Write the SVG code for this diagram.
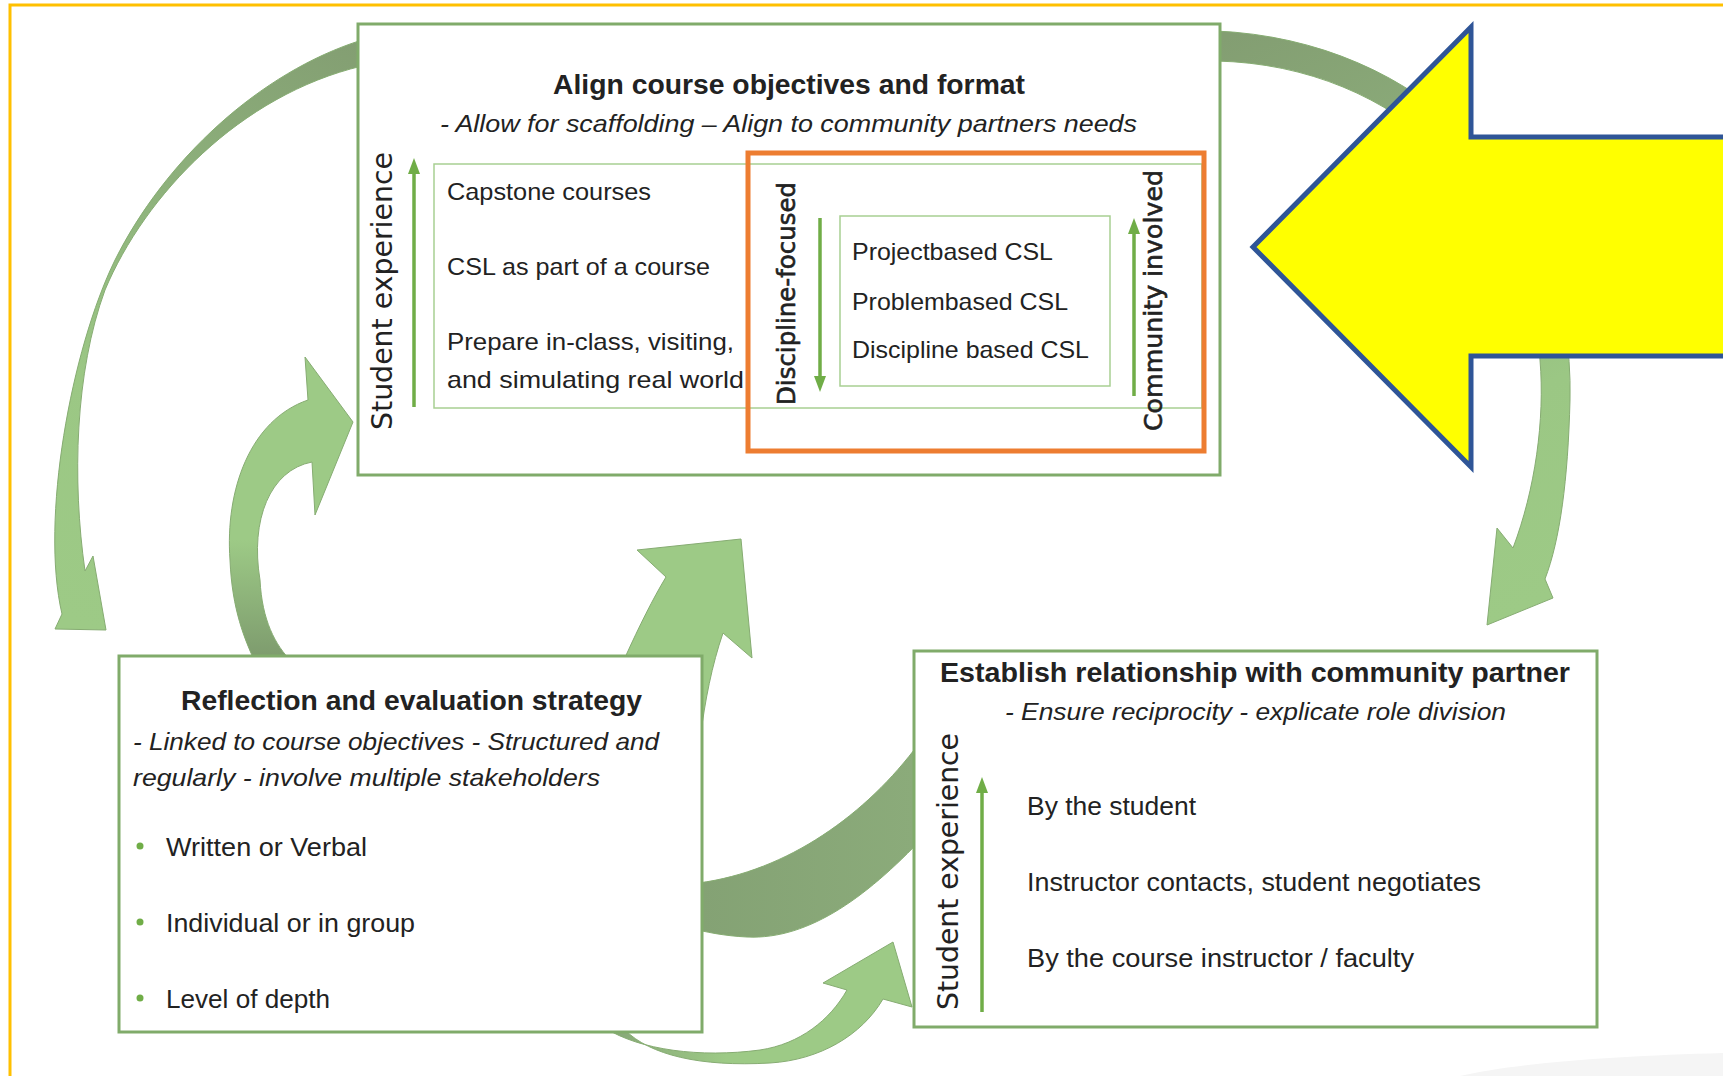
<svg xmlns="http://www.w3.org/2000/svg" width="1723" height="1076" viewBox="0 0 1723 1076">
<style>
.box{fill:#fff;stroke:#80AB6A;stroke-width:3}
.inner{fill:none;stroke:#A8CF92;stroke-width:1.5}
.t{font-family:"Liberation Sans",Arial,sans-serif;fill:#222}
.b{font-weight:bold;font-size:28px}
.i{font-style:italic;font-size:24px}
.n24{font-size:24px}
.n26{font-size:26px}
.v{font-family:"DejaVu Sans",Verdana,sans-serif;fill:#222;text-anchor:middle}
.vm{stroke:#222;stroke-width:0.6}
.sa{stroke:#70AD47;stroke-width:3.5;fill:none;marker-end:url(#ah)}
.conn{stroke:#86AC72;stroke-width:1}
.dot{fill:#70AD47}
</style>
<defs>
<marker id="ah" viewBox="0 0 16 12" refX="0" refY="6" markerWidth="16" markerHeight="12" orient="auto" markerUnits="userSpaceOnUse"><path d="M0,0 L16,6 L0,12 Z" fill="#70AD47"/></marker>
<linearGradient id="g1" gradientUnits="userSpaceOnUse" x1="360" y1="40" x2="70" y2="620"><stop offset="0" stop-color="#839E72"/><stop offset="0.35" stop-color="#8EB27C"/><stop offset="0.65" stop-color="#9BC784"/><stop offset="1" stop-color="#9DCA86"/></linearGradient>
<linearGradient id="g2" gradientUnits="userSpaceOnUse" x1="1220" y1="40" x2="1500" y2="620"><stop offset="0" stop-color="#839E72"/><stop offset="0.4" stop-color="#8FB27D"/><stop offset="0.7" stop-color="#9BC784"/><stop offset="1" stop-color="#9DCA86"/></linearGradient>
<linearGradient id="g3" gradientUnits="userSpaceOnUse" x1="0" y1="540" x2="0" y2="656"><stop offset="0" stop-color="#9DCA86"/><stop offset="1" stop-color="#7E9C6E"/></linearGradient>
<linearGradient id="g5" gradientUnits="userSpaceOnUse" x1="700" y1="0" x2="914" y2="0"><stop offset="0" stop-color="#84A274"/><stop offset="1" stop-color="#8BAB7A"/></linearGradient>
<linearGradient id="g6" gradientUnits="userSpaceOnUse" x1="610" y1="0" x2="900" y2="0"><stop offset="0" stop-color="#86A677"/><stop offset="0.4" stop-color="#9DCA86"/><stop offset="1" stop-color="#9DCA86"/></linearGradient>
</defs>
<rect width="1723" height="1076" fill="#fff"/>
<path d="M1460,1076 C1520,1062 1620,1056 1723,1053 L1723,1076 Z" fill="#F5F5F5"/>
<path d="M10,1080 V5 H1730" fill="none" stroke="#FFC000" stroke-width="3"/>

<g id="connectors">
<path class="conn" fill="url(#g1)" d="M362,40 C260,72 165,160 115,260 C71,350 40,520 62,614 L55,629 L106,630 L93,556 L85,571 C72,480 75,372 105,290 C145,195 240,95 362,66 Z"/>
<path class="conn" fill="url(#g2)" d="M1216,31 C1420,40 1575,190 1570,400 C1568,480 1560,540 1545,579 L1553,598 L1487,625 L1497,528 L1513,548 C1535,490 1545,420 1540,360 C1530,200 1400,65 1216,61 Z"/>
<path class="conn" fill="url(#g3)" d="M255,662 C245,640 232,610 230,560 C225,490 250,420 308,400 L305,357 L353,422 L315,515 L312,462 C270,470 250,520 260,580 C262,620 275,645 292,662 Z"/>
<path class="conn" fill="#9DCA86" d="M590,740 C610,690 640,620 666,577 L637,550 L741,539 L752,658 L723,633 C712,665 705,700 700,740 Z"/>
<path class="conn" fill="url(#g5)" d="M690,884 C780,875 860,820 914,750 L930,740 L930,830 C870,895 810,940 747,937 C725,936 705,932 690,928 Z"/>
<path class="conn" fill="url(#g6)" d="M605,1028 C640,1050 700,1058 760,1050 C800,1044 830,1020 847,990 L823,983 L893,942 L912,1007 L883,999 C862,1035 820,1060 770,1063 C700,1067 650,1055 625,1030 Z"/>
</g>

<g id="node-align">
<rect class="box" x="358" y="24" width="862" height="451"/>
<text class="t b" x="789" y="94" text-anchor="middle" textLength="472" lengthAdjust="spacingAndGlyphs">Align course objectives and format</text>
<text class="t i" x="440" y="132" textLength="697" lengthAdjust="spacingAndGlyphs">- Allow for scaffolding – Align to community partners needs</text>
<rect class="inner" x="434" y="164" width="768" height="244"/>
<text class="v" font-size="28" transform="translate(392,291) rotate(-90)" textLength="278" lengthAdjust="spacingAndGlyphs">Student experience</text>
<line class="sa" x1="414" y1="407" x2="414" y2="174"/>
<text class="t n24" x="447" y="200" textLength="204" lengthAdjust="spacingAndGlyphs">Capstone courses</text>
<text class="t n24" x="447" y="275" textLength="263" lengthAdjust="spacingAndGlyphs">CSL as part of a course</text>
<text class="t n24" x="447" y="350" textLength="287" lengthAdjust="spacingAndGlyphs">Prepare in-class, visiting,</text>
<text class="t n24" x="447" y="388" textLength="297" lengthAdjust="spacingAndGlyphs">and simulating real world</text>
<rect x="748" y="153" width="456" height="298" fill="none" stroke="#ED7D31" stroke-width="5"/>
<text class="v vm" font-size="24" transform="translate(795,293.5) rotate(-90)" textLength="223" lengthAdjust="spacingAndGlyphs">Discipline-focused</text>
<line class="sa" x1="820" y1="218" x2="820" y2="376"/>
<rect class="inner" x="840" y="216" width="270" height="170"/>
<text class="t n24" x="852" y="260" textLength="201" lengthAdjust="spacingAndGlyphs">Projectbased CSL</text>
<text class="t n24" x="852" y="310" textLength="216" lengthAdjust="spacingAndGlyphs">Problembased CSL</text>
<text class="t n24" x="852" y="358" textLength="237" lengthAdjust="spacingAndGlyphs">Discipline based CSL</text>
<text class="v vm" font-size="25" transform="translate(1162,300.5) rotate(-90)" textLength="261" lengthAdjust="spacingAndGlyphs">Community involved</text>
<line class="sa" x1="1134" y1="396" x2="1134" y2="234"/>
</g>

<g id="node-reflection">
<rect class="box" x="119" y="656" width="583" height="376"/>
<text class="t b" x="411.5" y="710" text-anchor="middle" textLength="461" lengthAdjust="spacingAndGlyphs">Reflection and evaluation strategy</text>
<text class="t i" x="133" y="750" textLength="526" lengthAdjust="spacingAndGlyphs">- Linked to course objectives - Structured and</text>
<text class="t i" x="133" y="786" textLength="467" lengthAdjust="spacingAndGlyphs">regularly - involve multiple stakeholders</text>
<circle class="dot" cx="140" cy="846" r="3.5"/>
<text class="t n26" x="166" y="856" textLength="201" lengthAdjust="spacingAndGlyphs">Written or Verbal</text>
<circle class="dot" cx="140" cy="922" r="3.5"/>
<text class="t n26" x="166" y="932" textLength="249" lengthAdjust="spacingAndGlyphs">Individual or in group</text>
<circle class="dot" cx="140" cy="998" r="3.5"/>
<text class="t n26" x="166" y="1008" textLength="164" lengthAdjust="spacingAndGlyphs">Level of depth</text>
</g>

<g id="node-establish">
<rect class="box" x="914" y="651" width="683" height="376"/>
<text class="t b" x="940" y="682" textLength="630" lengthAdjust="spacingAndGlyphs">Establish relationship with community partner</text>
<text class="t i" x="1005" y="720" textLength="501" lengthAdjust="spacingAndGlyphs">- Ensure reciprocity - explicate role division</text>
<text class="v" font-size="28" transform="translate(958,871.5) rotate(-90)" textLength="277" lengthAdjust="spacingAndGlyphs">Student experience</text>
<line class="sa" x1="982" y1="1012" x2="982" y2="793"/>
<text class="t n26" x="1027" y="815" textLength="169" lengthAdjust="spacingAndGlyphs">By the student</text>
<text class="t n26" x="1027" y="891" textLength="454" lengthAdjust="spacingAndGlyphs">Instructor contacts, student negotiates</text>
<text class="t n26" x="1027" y="967" textLength="387" lengthAdjust="spacingAndGlyphs">By the course instructor / faculty</text>
</g>

<g id="highlight-arrow">
<polygon points="1253,247 1471,27 1471,137 1730,137 1730,356 1471,356 1471,467" fill="#FFFF00" stroke="#2F5597" stroke-width="5"/>
</g>
</svg>
